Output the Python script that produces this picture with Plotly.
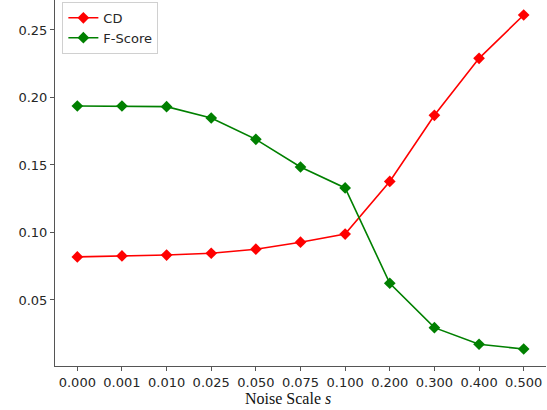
import plotly.graph_objects as go

noise_labels = ["0.000", "0.001", "0.010", "0.025", "0.050", "0.075", "0.100", "0.200", "0.300", "0.400", "0.500"]
cd = [0.0819, 0.0826, 0.0833, 0.0846, 0.0876, 0.0928, 0.0988, 0.1378, 0.1868, 0.2290, 0.2611]
fscore = [0.1937, 0.1937, 0.1932, 0.1848, 0.1690, 0.1485, 0.1330, 0.0624, 0.0295, 0.0172, 0.0137]
ytick_vals = [0.05, 0.10, 0.15, 0.20, 0.25]

xs = list(range(len(noise_labels)))

fig = go.Figure()
fig.add_trace(go.Scatter(x=xs, y=cd, mode="lines+markers", name="CD",
                         line=dict(color="red", width=1.6),
                         marker=dict(symbol="diamond", size=9, color="red")))
fig.add_trace(go.Scatter(x=xs, y=fscore, mode="lines+markers", name="F-Score",
                         line=dict(color="green", width=1.6),
                         marker=dict(symbol="diamond", size=9, color="green")))

fig.update_layout(
    width=547, height=410,
    margin=dict(l=55, r=1, t=0, b=44, autoexpand=False),
    paper_bgcolor="white", plot_bgcolor="white",
    font=dict(family="DejaVu Sans", size=13, color="#262626"),
    showlegend=True,
    legend=dict(x=0.015, y=0.995, xanchor="left", yanchor="top",
                bgcolor="rgba(255,255,255,0.8)", bordercolor="#d0d0d0", borderwidth=1,
                font=dict(size=13, family="DejaVu Sans", color="#262626"),
                tracegroupgap=3),
    xaxis=dict(range=[-0.5, 10.5], tickmode="array", tickvals=xs, ticktext=noise_labels,
               automargin=False,
               showgrid=False, zeroline=False, showline=True, linecolor="#555555", linewidth=1,
               ticks="outside", ticklen=4, tickcolor="#555555"),
    yaxis=dict(range=[0.0011, 0.2722], tickmode="array", tickvals=ytick_vals,
               ticktext=[f"{v:.2f}" for v in ytick_vals], automargin=False,
               showgrid=False, zeroline=False, showline=True, linecolor="#555555", linewidth=1,
               ticks="outside", ticklen=4, tickcolor="#555555"),
    annotations=[dict(text="Noise Scale <i>s</i>", xref="paper", yref="paper",
                      x=0.474, y=0, yshift=-32, xanchor="center", yanchor="middle",
                      showarrow=False,
                      font=dict(family="Liberation Serif", size=16, color="#111111"))],
)

fig.write_html("out.html", config={"displayModeBar": False},
               post_script="document.body.style.margin='0px';document.body.style.overflow='hidden';")
